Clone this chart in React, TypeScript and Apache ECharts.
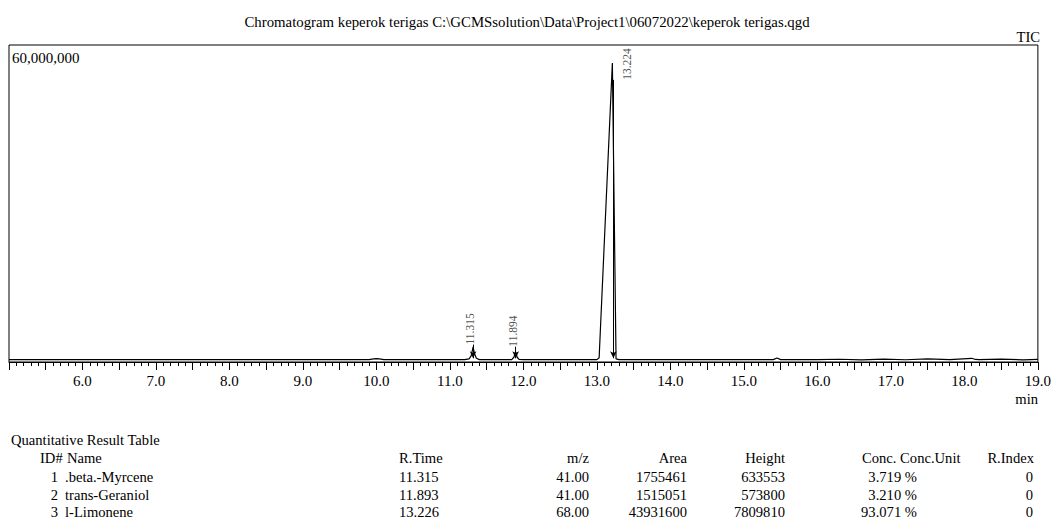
import React, { useEffect, useRef } from "react";
import * as echarts from "echarts";

const titleText =
  "Chromatogram keperok terigas C:\\GCMSsolution\\Data\\Project1\\06072022\\keperok terigas.qgd";

// Chromatogram trace (retention time in min, intensity in counts)
const signalTimes = [
  5.0, 5.8, 6.6, 7.4, 8.2, 9.0, 9.9, 9.96, 10.0, 10.04, 10.1, 11.2, 11.26, 11.29, 11.315, 11.335,
  11.36, 11.4, 11.84, 11.87, 11.894, 11.915, 11.94, 12.0, 13.0, 13.03, 13.21, 13.26, 13.3, 15.4,
  15.45, 15.5, 16.0, 16.3, 16.6, 16.9, 17.2, 17.5, 17.8, 18.1, 18.15, 18.2, 18.5, 18.8, 19.0,
];
const signalValues = [
  450000, 450000, 460000, 450000, 460000, 450000, 450000, 600000, 650000, 600000, 450000, 450000,
  600000, 1200000, 2840000, 1500000, 700000, 450000, 450000, 900000, 1890000, 900000, 500000,
  450000, 450000, 800000, 56600000, 600000, 450000, 450000, 750000, 450000, 450000, 520000, 420000,
  560000, 430000, 580000, 450000, 700000, 480000, 450000, 560000, 420000, 480000,
];

// Peak markers
const peakRT = [11.315, 11.894, 13.224];
const peakLabelLevel = [3300000, 2900000, 53400000];
const peakArrowTip = 700000;

// Axis
const xMin = 5;
const xMax = 19;
const yMax = 60000000;

// Quantitative result table
const tableIds = ["1", "2", "3"];
const tableNames = [".beta.-Myrcene", "trans-Geraniol", "l-Limonene"];
const tableRTime = ["11.315", "11.893", "13.226"];
const tableMz = ["41.00", "41.00", "68.00"];
const tableArea = ["1755461", "1515051", "43931600"];
const tableHeight = ["633553", "573800", "7809810"];
const tableConc = ["3.719", "3.210", "93.071"];
const tableConcUnit = ["%", "%", "%"];
const tableRIndex = ["0", "0", "0"];

const FONT = "'Liberation Serif', 'Times New Roman', serif";

export default function App() {
  const ref = useRef<HTMLDivElement>(null);

  useEffect(() => {
    if (!ref.current) return;
    const chart = echarts.init(ref.current, undefined, { renderer: "svg" });

    const txt = (
      text: string,
      x: number,
      y: number,
      align: "left" | "right" | "center" = "left",
      size = 14.6
    ) => ({
      type: "text",
      x,
      y,
      silent: true,
      style: {
        text,
        x: 0,
        y: 0,
        fill: "#000",
        font: `${size}px ${FONT}`,
        align,
        verticalAlign: "middle",
      },
    });

    const tableRowsY = [477, 495, 512];
    const tableGraphics: any[] = [
      txt("Quantitative Result Table", 11, 440),
      txt("ID#", 40, 458),
      txt("Name", 67, 458),
      txt("R.Time", 399, 458),
      txt("m/z", 589, 458, "right"),
      txt("Area", 687, 458, "right"),
      txt("Height", 785, 458, "right"),
      txt("Conc. Conc.Unit", 862, 458),
      txt("R.Index", 1034, 458, "right"),
    ];
    tableIds.forEach((id, i) => {
      const y = tableRowsY[i];
      tableGraphics.push(
        txt(id, 58, y, "right"),
        txt(tableNames[i], 65, y),
        txt(tableRTime[i], 399, y),
        txt(tableMz[i], 589, y, "right"),
        txt(tableArea[i], 687, y, "right"),
        txt(tableHeight[i], 785, y, "right"),
        txt(`${tableConc[i]} ${tableConcUnit[i]}`, 917, y, "right"),
        txt(tableRIndex[i], 1033, y, "right")
      );
    });

    const option: any = {
      animation: false,
      backgroundColor: "#fff",
      title: {
        text: titleText,
        left: "center",
        top: 9,
        textStyle: { fontFamily: FONT, fontSize: 14.8, fontWeight: "normal", color: "#000" },
      },
      grid: {
        left: 9,
        right: 14,
        top: 45,
        bottom: 158,
        show: true,
        borderColor: "#000",
        borderWidth: 1,
        containLabel: false,
      },
      xAxis: {
        type: "value",
        min: xMin,
        max: xMax,
        interval: 0.5,
        axisLine: { show: true, lineStyle: { color: "#000", width: 1 } },
        axisTick: { show: true, length: 8, lineStyle: { color: "#000" } },
        minorTick: { show: true, splitNumber: 5, length: 4, lineStyle: { color: "#000" } },
        splitLine: { show: false },
        axisLabel: {
          margin: 11,
          fontFamily: FONT,
          fontSize: 15,
          color: "#000",
          formatter: (v: number) => (v > xMin && Number.isInteger(v) ? v.toFixed(1) : ""),
        },
      },
      yAxis: {
        type: "value",
        min: 0,
        max: yMax,
        interval: yMax,
        axisLine: { show: false },
        axisTick: { show: false },
        splitLine: { show: false },
        axisLabel: {
          inside: true,
          margin: 3,
          verticalAlign: "top",
          padding: [5, 0, 0, 0],
          fontFamily: FONT,
          fontSize: 15,
          color: "#000",
          formatter: (v: number) => (v === yMax ? v.toLocaleString("en-US") : ""),
        },
      },
      graphic: [
        txt("TIC", 1040, 37, "right", 14.6),
        txt("min", 1038, 399, "right", 14.6),
        ...tableGraphics,
      ],
      series: [
        {
          type: "line",
          data: signalTimes.map((t, i) => [t, signalValues[i]]),
          showSymbol: false,
          symbol: "none",
          lineStyle: { color: "#000", width: 1.2 },
          silent: true,
          markLine: {
            silent: true,
            symbol: ["none", "arrow"],
            symbolSize: [5, 7],
            lineStyle: { color: "#000", width: 1, type: "solid" },
            label: { show: false },
            data: peakRT.map((t, i) => [
              { coord: [t, peakLabelLevel[i]] },
              { coord: [t, peakArrowTip] },
            ]),
          },
        },
        {
          type: "scatter",
          symbolSize: 1,
          itemStyle: { color: "rgba(0,0,0,0)" },
          silent: true,
          data: peakRT.map((t, i) => ({
            value: [t, peakLabelLevel[i]],
            label: { offset: i === 2 ? [0, 14] : [0, -3] },
          })),
          label: {
            show: true,
            position: "inside",
            rotate: 90,
            align: "left",
            verticalAlign: "middle",
            fontFamily: FONT,
            fontSize: 11.5,
            color: "#222",
            formatter: (p: any) => p.value[0].toFixed(3),
          },
        },
      ],
    };

    chart.setOption(option);
    return () => chart.dispose();
  }, []);

  return (
    <div
      ref={ref}
      style={{ position: "absolute", left: 0, top: 0, width: 1054, height: 520, background: "#fff" }}
    />
  );
}
